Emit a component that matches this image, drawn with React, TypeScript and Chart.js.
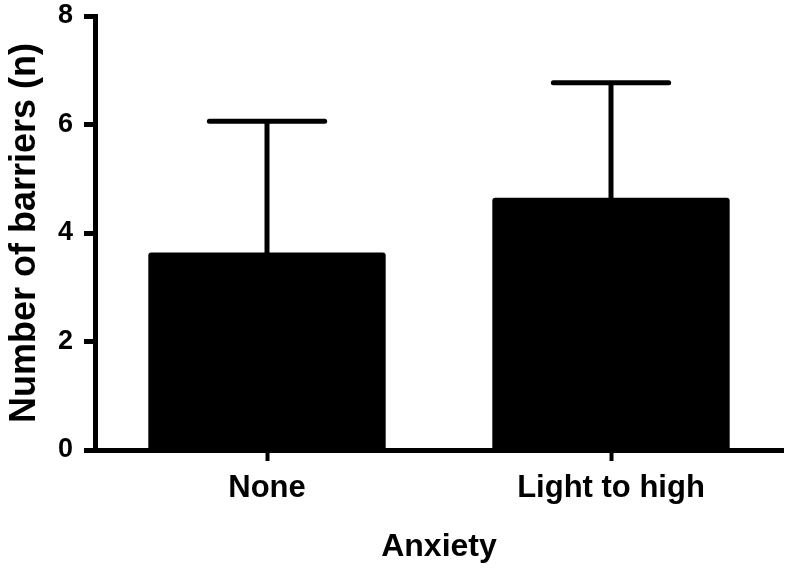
import React, { useEffect, useRef } from "react";
import { Chart, registerables } from "chart.js";

Chart.register(...registerables);

const categories = ["None", "Light to high"];
const meanBarriers = [3.64, 4.65];
const sdBarriers = [2.42, 2.12];
const yTicks = [0, 2, 4, 6, 8];
const xTitle = "Anxiety";
const yTitle = "Number of barriers (n)";

const FONT = "'Liberation Sans', Arial, Helvetica, sans-serif";

const errorBarPlugin = {
  id: "errorBars",
  afterDatasetsDraw(chart: any) {
    const meta = chart.getDatasetMeta(0);
    const yScale = chart.scales.y;
    const ctx = chart.ctx;
    ctx.save();
    ctx.strokeStyle = "#000";
    ctx.lineWidth = 5;
    meta.data.forEach((bar: any, i: number) => {
      const x = bar.x;
      const yBase = yScale.getPixelForValue(meanBarriers[i]);
      const yTop = yScale.getPixelForValue(meanBarriers[i] + sdBarriers[i]);
      const half = bar.width * 0.243;
      ctx.beginPath();
      ctx.lineCap = "butt";
      ctx.moveTo(x, yBase + 1);
      ctx.lineTo(x, yTop);
      ctx.stroke();
      ctx.beginPath();
      ctx.lineCap = "round";
      ctx.moveTo(x - half, yTop);
      ctx.lineTo(x + half, yTop);
      ctx.stroke();
    });
    ctx.restore();
  },
};

export default function App() {
  const canvasRef = useRef<HTMLCanvasElement | null>(null);

  useEffect(() => {
    if (!canvasRef.current) return;
    const chart = new Chart(canvasRef.current, {
      type: "bar",
      data: {
        labels: categories,
        datasets: [
          {
            data: meanBarriers,
            backgroundColor: "#000",
            borderWidth: 0,
            borderRadius: 3,
            barPercentage: 0.69,
            categoryPercentage: 1.0,
          },
        ],
      },
      options: {
        animation: false,
        responsive: false,
        layout: { padding: { left: 0, right: 17, top: 16, bottom: 0 } },
        plugins: {
          legend: { display: false },
          tooltip: { enabled: false },
        },
        scales: {
          x: {
            ticks: {
              color: "#000",
              font: { family: FONT, size: 31, weight: "bold" },
              padding: 9,
            },
            grid: {
              display: true,
              drawOnChartArea: false,
              drawTicks: true,
              tickLength: 11,
              tickWidth: 4,
              tickColor: "#000",
              offset: false,
            },
            border: { display: true, color: "#000", width: 5 },
            title: {
              display: true,
              text: xTitle,
              color: "#000",
              font: { family: FONT, size: 32, weight: "bold" },
              padding: { top: 0, bottom: 2 },
            },
            afterFit: (s: any) => {
              s.height = 118;
              s.paddingLeft = 0;
              s.paddingRight = 0;
            },
          },
          y: {
            min: yTicks[0],
            max: yTicks[yTicks.length - 1],
            afterBuildTicks: (s: any) => {
              s.ticks = yTicks.map((v) => ({ value: v }));
            },
            ticks: {
              color: "#000",
              font: { family: FONT, size: 27, weight: "bold" },
              padding: 11,
            },
            grid: {
              display: true,
              drawOnChartArea: false,
              drawTicks: true,
              tickLength: 11,
              tickWidth: 5,
              tickColor: "#000",
            },
            border: { display: true, color: "#000", width: 5 },
            title: {
              display: true,
              text: yTitle,
              color: "#000",
              font: { family: FONT, size: 36, weight: "bold" },
              padding: { top: 3, bottom: 0 },
            },
            afterFit: (s: any) => {
              s.width = 95;
              s.paddingTop = 0;
              s.paddingBottom = 0;
            },
          },
        },
      },
      plugins: [errorBarPlugin],
    });
    return () => chart.destroy();
  }, []);

  return (
    <div style={{ position: "absolute", left: 0, top: 0, width: 800, height: 568, background: "#fff" }}>
      <canvas ref={canvasRef} width={800} height={568} style={{ display: "block" }} />
    </div>
  );
}
